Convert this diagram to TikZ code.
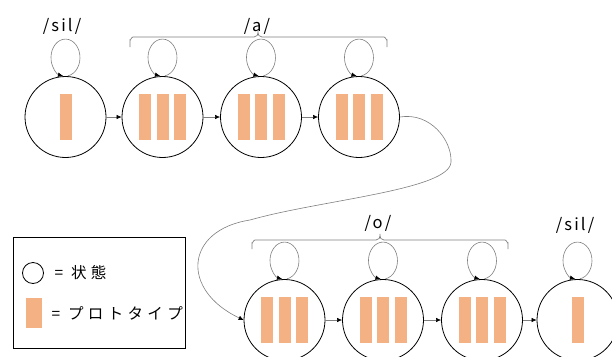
\documentclass[tikz,border=0pt]{standalone}
\usepackage{fontspec}
\setmainfont{Noto Sans CJK JP}
\newfontfamily\labfont[LetterSpace=13]{Noto Sans CJK JP}
\newfontfamily\keyfont[LetterSpace=28]{Noto Sans CJK JP}
\usetikzlibrary{arrows.meta,calc}

\definecolor{proto}{HTML}{F4B183}
\definecolor{wire}{HTML}{7F7F7F}

\tikzset{
  state/.style={circle, draw=black, line width=0.8pt, minimum size=81pt, inner sep=0pt},
  bar/.style={fill=proto, draw=none},
  flow/.style={draw=wire, line width=0.6pt, -{Latex[length=5pt,width=4.5pt,color=black]}},
  selfloop/.style={draw=wire, line width=0.6pt, -{Latex[length=5pt,width=4.5pt,color=black]}},
  bracket/.style={draw=wire, line width=0.7pt},
  lbl/.style={font=\labfont\fontsize{16.5}{16.5}\selectfont, inner sep=0pt},
  keytext/.style={font=\keyfont\fontsize{15.5}{15.5}\selectfont, inner sep=0pt, anchor=west},
}

% three prototype bars inside a state
\newcommand\threebars[1]{%
  \foreach \dx in {-17.5,0,17.5}
    \path[bar] ([shift={(\dx-6,-23)}]#1.center) rectangle ([shift={(\dx+6,23)}]#1.center);}
% one prototype bar inside a state
\newcommand\onebar[1]{%
  \path[bar] ([shift={(-6,-23)}]#1.center) rectangle ([shift={(6,23)}]#1.center);}
% self transition above a state
\newcommand\selfloopat[1]{%
  \draw[selfloop] ([shift={(2.5,-0.3)}]#1.north)
    arc[start angle=80, end angle=-260, x radius=14.5, y radius=18.5];}

\begin{document}
\begin{tikzpicture}[x=1pt, y=-1pt]
  \useasboundingbox (0,0) rectangle (612,356);
  \clip (0,0) rectangle (612,356);

  % upper chain: /sil/ then /a/
  \node[state] (s1) at (65.5,117) {};
  \node[state] (s2) at (162.5,117) {};
  \node[state] (s3) at (261,117) {};
  \node[state] (s4) at (359,117) {};

  % lower chain: /o/ then /sil/
  \node[state] (b1) at (284.5,320) {};
  \node[state] (b2) at (383,320) {};
  \node[state] (b3) at (482,320) {};
  \node[state] (b4) at (577.5,320) {};

  \onebar{s1}
  \threebars{s2}
  \threebars{s3}
  \threebars{s4}
  \threebars{b1}
  \threebars{b2}
  \threebars{b3}
  \onebar{b4}

  \foreach \n in {s1,s2,s3,s4,b1,b2,b3,b4} {\selfloopat{\n}}

  \draw[flow] (s1) -- (s2);
  \draw[flow] (s2) -- (s3);
  \draw[flow] (s3) -- (s4);
  \draw[flow] (b1) -- (b2);
  \draw[flow] (b2) -- (b3);
  \draw[flow] (b3) -- (b4);

  % link from the last /a/ state to the first /o/ state
  \draw[flow] (s4.east) .. controls (430,112) and (452,140) .. (451,162)
    .. controls (450,190) and (320,200) .. (250,220)
    .. controls (185,230) and (180,290) .. (b1.west);

  % phoneme brackets
  \draw[bracket] (130,47) -- (130,40) to[out=-90,in=180] (133,37) -- (254,37)
    .. controls (257,37) and (258,35) .. (258,31)
    .. controls (258,35) and (259,37) .. (262,37) -- (384,37)
    to[out=0,in=-90] (387,40) -- (387,47);
  \draw[bracket] (252,249) -- (252,243) to[out=-90,in=180] (255,240) -- (376,240)
    .. controls (379,240) and (380,238) .. (380,234)
    .. controls (380,238) and (381,240) .. (384,240) -- (505,240)
    to[out=0,in=-90] (508,243) -- (508,249);

  % phoneme labels
  \node[lbl] (lsil1) at (62,26) {/sil/};
  \node[lbl] (la) at (257,26) {/a/};
  \node[lbl] (lo) at (378,223) {/o/};
  \node[lbl] (lsil2) at (575,225) {/sil/};

  % legend
  \node[draw=black, line width=0.8pt, minimum width=172pt, minimum height=111pt, inner sep=0pt] (legend) at (99,292.5) {};
  \node[circle, draw=black, line width=0.8pt, minimum size=21pt, inner sep=0pt] (lgc) at (33,273) {};
  \node[keytext] (lgct) at (54.5,273) {= 状態};
  \node[fill=proto, minimum width=16pt, minimum height=30pt, inner sep=0pt] (lgb) at (34,313) {};
  \node[keytext] (lgbt) at (51.5,313) {= プロトタイプ};
\end{tikzpicture}
\end{document}
